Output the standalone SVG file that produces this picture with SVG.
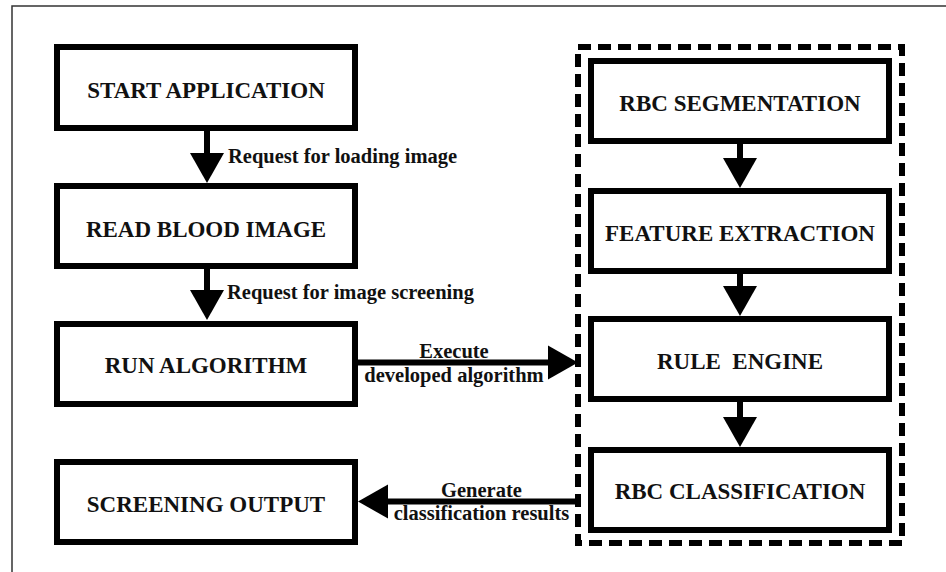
<svg xmlns="http://www.w3.org/2000/svg" width="946" height="572" viewBox="0 0 946 572">
<style>
.box{fill:#fff;stroke:#000;stroke-width:6}
.bt{font-family:"Liberation Serif","Times New Roman",serif;font-weight:bold;font-size:23px;fill:#111;text-anchor:middle}
.lb{font-family:"Liberation Serif","Times New Roman",serif;font-weight:bold;font-size:20.5px;fill:#111}
.sh{stroke:#000;stroke-width:6;fill:none;marker-end:url(#ah)}
</style>
<defs>
<marker id="ah" markerUnits="userSpaceOnUse" markerWidth="30" markerHeight="34" refX="0" refY="17" orient="auto" overflow="visible">
<path d="M0,0 L30,17 L0,34 Z" fill="#000"/>
</marker>
</defs>
<rect width="946" height="572" fill="#fff"/>
<path d="M12,572 V6 H946" fill="none" stroke="#333" stroke-width="1.5"/>
<g id="container">
<rect x="578" y="47" width="324" height="496" fill="none" stroke="#000" stroke-width="6" stroke-dasharray="13 7"/>
</g>
<g id="start"><rect class="box" x="57" y="47" width="298" height="81"/><text class="bt" x="206" y="98">START APPLICATION</text></g>
<g id="read"><rect class="box" x="57" y="186" width="298" height="80"/><text class="bt" x="206" y="237">READ BLOOD IMAGE</text></g>
<g id="run"><rect class="box" x="57" y="324" width="298" height="80"/><text class="bt" x="206" y="373">RUN ALGORITHM</text></g>
<g id="output"><rect class="box" x="57" y="462" width="298" height="80"/><text class="bt" x="206" y="512">SCREENING OUTPUT</text></g>
<g id="seg"><rect class="box" x="591" y="61" width="298" height="80"/><text class="bt" x="740" y="111">RBC SEGMENTATION</text></g>
<g id="feat"><rect class="box" x="591" y="191" width="298" height="80"/><text class="bt" x="740" y="241">FEATURE EXTRACTION</text></g>
<g id="rule"><rect class="box" x="591" y="319" width="298" height="80"/><text class="bt" x="740" y="369" xml:space="preserve">RULE  ENGINE</text></g>
<g id="cls"><rect class="box" x="591" y="450" width="298" height="80"/><text class="bt" x="740" y="499">RBC CLASSIFICATION</text></g>
<g id="connectors">
<line class="sh" x1="207" y1="131" x2="207" y2="153"/>
<line class="sh" x1="207" y1="269" x2="207" y2="290"/>
<line class="sh" x1="740" y1="144" x2="740" y2="158"/>
<line class="sh" x1="740" y1="274" x2="740" y2="286"/>
<line class="sh" x1="740" y1="402" x2="740" y2="417"/>
<line class="sh" x1="358" y1="362.5" x2="548" y2="362.5"/>
<line class="sh" x1="579" y1="501.5" x2="388" y2="501.5"/>
<text class="lb" x="228" y="163">Request for loading image</text>
<text class="lb" x="227" y="299">Request for image screening</text>
<text class="lb" x="454" y="358" text-anchor="middle">Execute</text>
<text class="lb" x="454" y="382" text-anchor="middle">developed algorithm</text>
<text class="lb" x="481.5" y="497" text-anchor="middle">Generate</text>
<text class="lb" x="481.5" y="520" text-anchor="middle">classification results</text>
</g>
</svg>
